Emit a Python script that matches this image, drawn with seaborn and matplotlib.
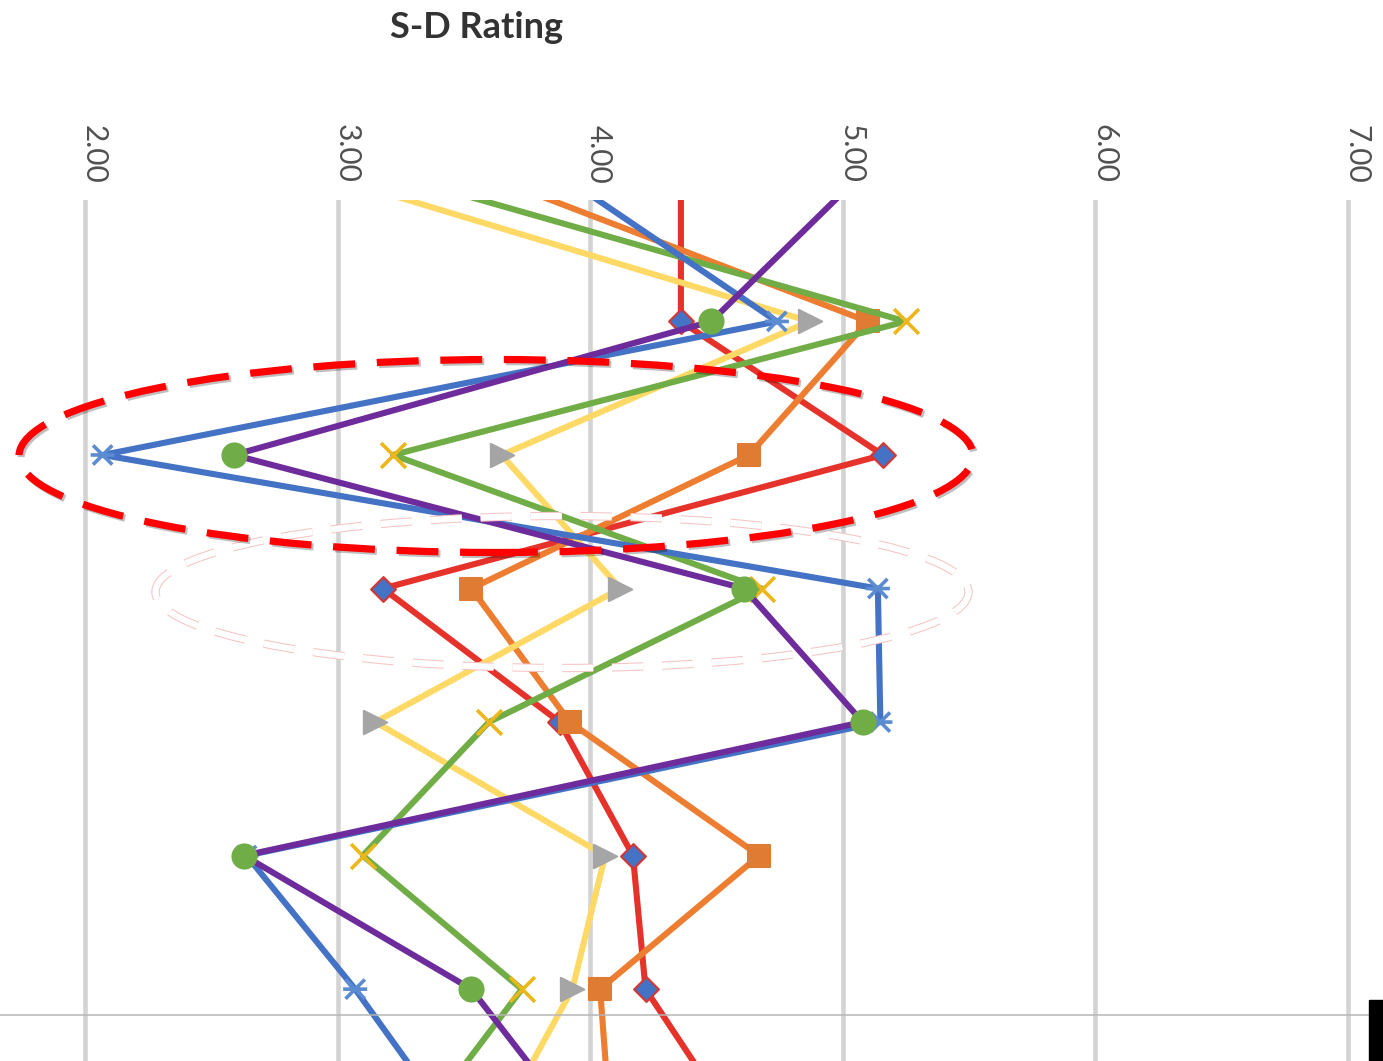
import matplotlib
matplotlib.use("Agg")
import numpy as np
import pandas as pd
import seaborn as sns
import matplotlib.pyplot as plt
import matplotlib.patheffects as pe
import matplotlib.transforms as mtransforms
from matplotlib.path import Path
from matplotlib.patches import Ellipse, Rectangle
from matplotlib.lines import Line2D

# ---- data -------------------------------------------------------------
rows = [0, 1, 2, 3, 4, 5, 6, 7]
rating_ticks = [2.0, 3.0, 4.0, 5.0, 6.0, 7.0]
rating_labels = ["2.00", "3.00", "4.00", "5.00", "6.00", "7.00"]

series_names = ["Series 1", "Series 2", "Series 3", "Series 4", "Series 5", "Series 6"]
series_1 = [4.36, 4.36, 5.16, 3.18, 3.88, 4.17, 4.22, 4.57]
series_2 = [3.72, 5.10, 4.63, 3.53, 3.92, 4.67, 4.04, 4.08]
series_3 = [3.12, 4.87, 3.65, 4.12, 3.15, 4.06, 3.93, 3.64]
series_4 = [3.40, 5.25, 3.22, 4.68, 3.60, 3.10, 3.73, 3.33]
series_5 = [3.96, 4.74, 2.07, 5.14, 5.15, 2.64, 3.07, 3.45]
series_6 = [5.02, 4.48, 2.59, 4.61, 5.08, 2.63, 3.53, 3.94]

line_colors = ["#E5322B", "#ED7D31", "#FFD966", "#70AD47", "#4472C4", "#6E2B9C"]
marker_colors = ["#4472C4", "#E07B33", "#A5A5A5", "#EDB71C", "#5B8BD0", "#70AD47"]

# asterisk marker: an X with a horizontal bar
star_path = Path(
    [(-1, -1), (1, 1), (-1, 1), (1, -1), (-1.25, 0), (1.25, 0)],
    [Path.MOVETO, Path.LINETO, Path.MOVETO, Path.LINETO, Path.MOVETO, Path.LINETO],
)
marker_shapes = ["D", "s", ">", "x", star_path, "o"]
marker_sizes = [160, 240, 280, 320, 300, 300]

values = [series_1, series_2, series_3, series_4, series_5, series_6]
df = pd.concat(
    [pd.DataFrame({"series": n, "row": rows, "rating": v})
     for n, v in zip(series_names, values)],
    ignore_index=True,
)

# ---- figure -----------------------------------------------------------
sns.set_style("white")
plt.rcParams["font.family"] = ["Lato", "DejaVu Sans"]

W, H = 1383, 1061
fig = plt.figure(figsize=(W / 100, H / 100), dpi=100)
fig.patch.set_facecolor("white")

ax = fig.add_axes([0, 0, 1, 1 - 200 / H])
ax.set_facecolor("white")

# value axis: 2.00 at x=85px, 252.5px per unit; category rows every 133.5px
row0, row_step = 187.9, 133.54
y_bottom = (H - row0) / row_step
y_top = (200 - row0) / row_step

for k, name in enumerate(series_names):
    sub = df[df["series"] == name]
    shown = sub[(sub["row"] >= y_top) & (sub["row"] <= y_bottom)]
    z = 3 + 2 * k
    sns.lineplot(data=sub, x="rating", y="row", orient="y", sort=False,
                 estimator=None, color=line_colors[k], linewidth=4.4,
                 solid_joinstyle="round", solid_capstyle="round",
                 zorder=z, ax=ax, legend=False)
    m = marker_shapes[k]
    if m == "x":
        sns.scatterplot(data=shown, x="rating", y="row", marker=m,
                        color=marker_colors[k], s=marker_sizes[k],
                        linewidth=2.6, zorder=z + 1, ax=ax, legend=False)
    elif isinstance(m, Path):
        sns.scatterplot(data=shown, x="rating", y="row", marker=m,
                        facecolor="none", edgecolor=marker_colors[k],
                        s=marker_sizes[k], linewidth=2.6, zorder=z + 1,
                        ax=ax, legend=False)
    else:
        ec = "#D8352E" if k == 0 else marker_colors[k]
        sns.scatterplot(data=shown, x="rating", y="row", marker=m,
                        color=marker_colors[k], edgecolor=ec,
                        s=marker_sizes[k], linewidth=1.5, zorder=z + 1,
                        ax=ax, legend=False)

ax.set_xlim(2 - 85 / 252.5, 2 + (W - 85) / 252.5)
ax.set_ylim(y_bottom, y_top)

ax.set_xticks(rating_ticks)
ax.set_xticklabels(rating_labels, rotation=-90, fontsize=21.5, color="#505050")
ax.xaxis.tick_top()
ax.tick_params(axis="x", length=0, pad=12, top=True, bottom=False,
               labeltop=True, labelbottom=False)
ax.set_yticks([])
ax.set_xlabel("")
ax.set_ylabel("")
ax.grid(axis="x", color="#D3D3D3", linewidth=3.3, zorder=0)
ax.grid(axis="y", visible=False)
ax.set_axisbelow(True)
for sp in ax.spines.values():
    sp.set_visible(False)

shift = mtransforms.ScaledTranslation(9 / 100, 0, fig.dpi_scale_trans)
for lab in ax.get_xticklabels():
    lab.set_transform(lab.get_transform() + shift)

# title
fig.text(477 / W, 1 - 27 / H, "S-D Rating", ha="center", va="center",
         fontsize=26, fontweight="bold", color="#333333")

# faint dashed ellipse
faint = Ellipse((562 / W, 1 - 592 / H), 813 / W, 152 / H,
                transform=fig.transFigure, fill=False, edgecolor="white",
                linewidth=4.5, linestyle=(0, (5, 3)), zorder=20)
faint.set_path_effects([pe.Stroke(linewidth=6, foreground="#F6C4C4"), pe.Normal()])
fig.add_artist(faint)

# red dashed ellipse
ring = Ellipse((496 / W, 1 - 456 / H), 954 / W, 193 / H,
               transform=fig.transFigure, fill=False, edgecolor="#FF0000",
               linewidth=5.2, linestyle=(0, (5.8, 3.0)), zorder=30)
ring.set_path_effects([pe.SimpleLineShadow(offset=(1.5, -1.5), shadow_color="k",
                                           alpha=0.25), pe.Normal()])
fig.add_artist(ring)

# thin horizontal rule and dark block near the bottom edge
fig.add_artist(Line2D([0, 1], [1 - 1015 / H, 1 - 1015 / H],
                      transform=fig.transFigure, color="#B5B5B5",
                      linewidth=1.1, zorder=40))
fig.add_artist(Rectangle((1369 / W, 0), 14 / W, 61 / H,
                         transform=fig.transFigure, color="black", zorder=41))

fig.savefig("out.png", dpi=100, facecolor="white")
